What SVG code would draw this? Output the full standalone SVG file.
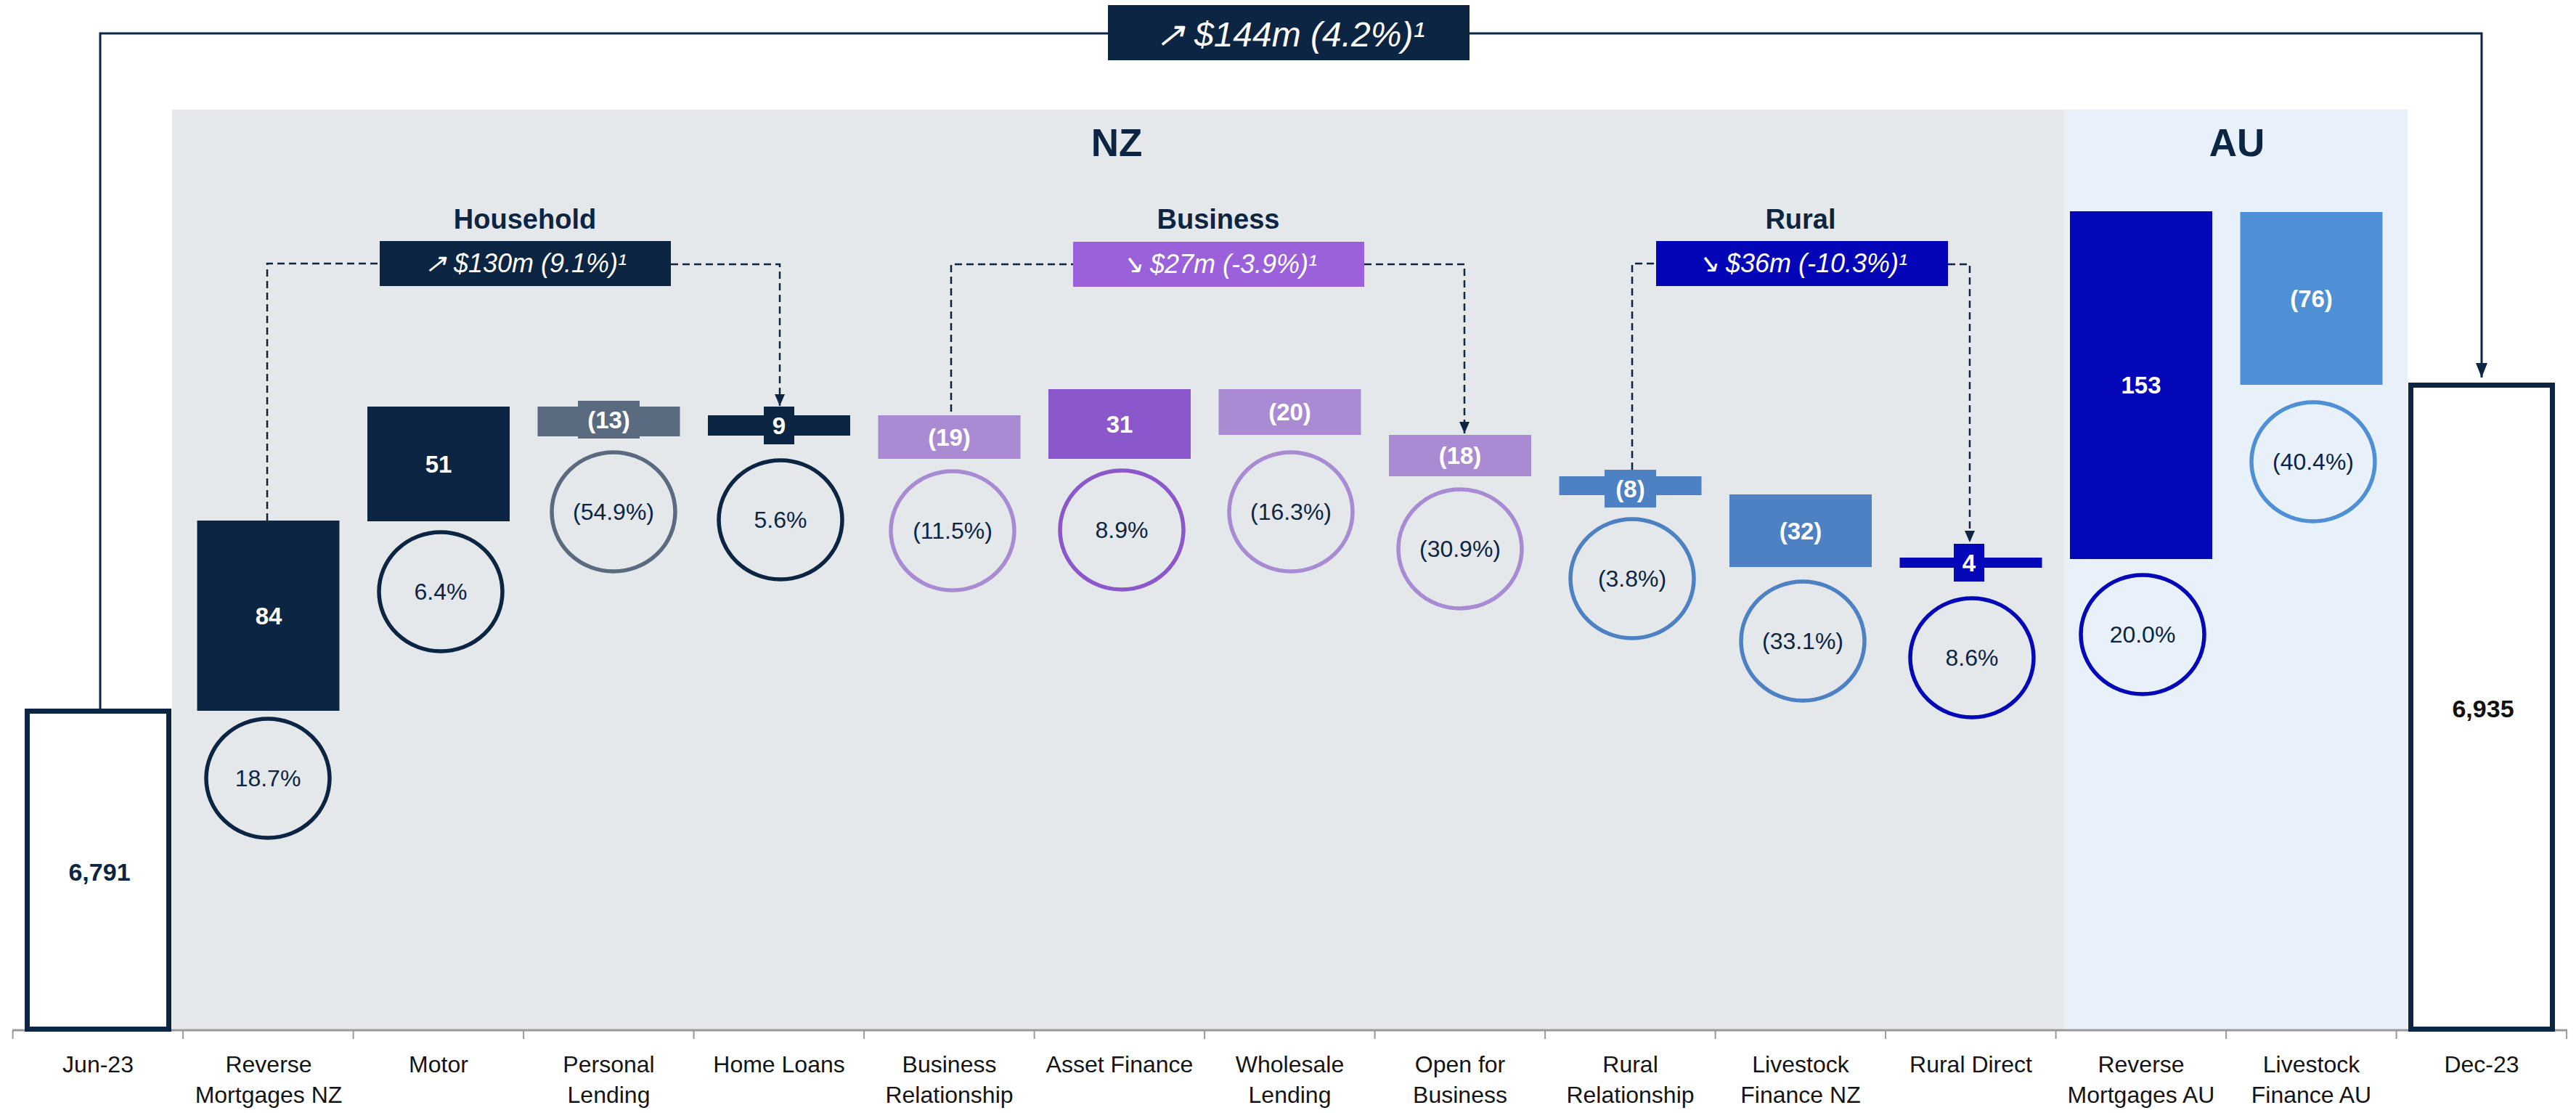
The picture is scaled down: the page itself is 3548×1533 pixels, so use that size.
<svg xmlns="http://www.w3.org/2000/svg" width="3548" height="1533" viewBox="0 0 3548 1533">
<defs>
<style>
text { font-family: "Liberation Sans", Arial, sans-serif; }
.cat { font-size: 32px; fill: #141414; text-anchor: middle; }
.bl { font-size: 33px; font-weight: bold; fill: #ffffff; text-anchor: middle; }
.pct { font-size: 32px; fill: #0c2542; text-anchor: middle; }
.ring { fill: none; stroke-width: 5.5; }
.hd { font-size: 38px; font-weight: bold; fill: #0c2542; text-anchor: middle; }
.rg { font-size: 53px; font-weight: bold; fill: #0c2542; text-anchor: middle; }
.badge { font-size: 36px; font-style: italic; fill: #ffffff; text-anchor: middle; }
.dash { fill: none; stroke: #0c2542; stroke-width: 2.5; stroke-dasharray: 10 6; }
.solid { fill: none; stroke: #0c2542; stroke-width: 3; }
.tot { fill: #ffffff; stroke: #0c2542; stroke-width: 7; }
.totl { font-size: 34px; font-weight: bold; text-anchor: middle; }
.axis { stroke: #9a9a9a; stroke-width: 3; }
.tick { stroke: #9a9a9a; stroke-width: 2; }
.navy { fill: #0c2542; }
.gray { fill: #5a6b80; }
.lp { fill: #a98bd4; }
.dp { fill: #8b58cb; }
.mb { fill: #4e80c4; }
.db { fill: #0508b8; }
.lb { fill: #4f8fd6; }
.s-navy { stroke: #0c2542; }
.s-gray { stroke: #5a6b80; }
.s-lp { stroke: #a98bd4; }
.s-dp { stroke: #8b58cb; }
.s-mb { stroke: #4e80c4; }
.s-db { stroke: #0508b8; }
.s-lb { stroke: #4f8fd6; }
</style>
<marker id="ah" viewBox="0 0 16 14" refX="16" refY="7" markerWidth="16" markerHeight="14" markerUnits="userSpaceOnUse" orient="auto">
<path d="M0,0 L16,7 L0,14 Z" fill="#0c2542"/>
</marker>
<marker id="ahb" viewBox="0 0 20 16" refX="20" refY="8" markerWidth="20" markerHeight="16" markerUnits="userSpaceOnUse" orient="auto">
<path d="M0,0 L20,8 L0,16 Z" fill="#0c2542"/>
</marker>
</defs>

<rect x="0" y="0" width="3548" height="1533" fill="#ffffff"/>

<g id="region-nz">
<rect x="237" y="151" width="2606" height="1268" fill="#e4e8eb"/>
<text class="rg" x="1538" y="215">NZ</text>
</g>
<g id="region-au">
<rect x="2843" y="151" width="473" height="1268" fill="#e8f1fa"/>
<text class="rg" x="3081" y="215">AU</text>
</g>

<g id="axis">
<line class="axis" x1="17" y1="1419" x2="3536" y2="1419"/>
<line class="tick" x1="17.6" y1="1419" x2="17.6" y2="1431"/>
<line class="tick" x1="252.1" y1="1419" x2="252.1" y2="1431"/>
<line class="tick" x1="486.6" y1="1419" x2="486.6" y2="1431"/>
<line class="tick" x1="721.1" y1="1419" x2="721.1" y2="1431"/>
<line class="tick" x1="955.6" y1="1419" x2="955.6" y2="1431"/>
<line class="tick" x1="1190.1" y1="1419" x2="1190.1" y2="1431"/>
<line class="tick" x1="1424.6" y1="1419" x2="1424.6" y2="1431"/>
<line class="tick" x1="1659.1" y1="1419" x2="1659.1" y2="1431"/>
<line class="tick" x1="1893.6" y1="1419" x2="1893.6" y2="1431"/>
<line class="tick" x1="2128.1" y1="1419" x2="2128.1" y2="1431"/>
<line class="tick" x1="2362.6" y1="1419" x2="2362.6" y2="1431"/>
<line class="tick" x1="2597.1" y1="1419" x2="2597.1" y2="1431"/>
<line class="tick" x1="2831.6" y1="1419" x2="2831.6" y2="1431"/>
<line class="tick" x1="3066.1" y1="1419" x2="3066.1" y2="1431"/>
<line class="tick" x1="3300.6" y1="1419" x2="3300.6" y2="1431"/>
<line class="tick" x1="3535.1" y1="1419" x2="3535.1" y2="1431"/>
</g>

<g id="category-labels">
<text class="cat" x="135" y="1477">Jun-23</text>
<text class="cat" x="370" y="1477">Reverse</text><text class="cat" x="370" y="1519">Mortgages NZ</text>
<text class="cat" x="604" y="1477">Motor</text>
<text class="cat" x="838.5" y="1477">Personal</text><text class="cat" x="838.5" y="1519">Lending</text>
<text class="cat" x="1073" y="1477">Home Loans</text>
<text class="cat" x="1307.5" y="1477">Business</text><text class="cat" x="1307.5" y="1519">Relationship</text>
<text class="cat" x="1542" y="1477">Asset Finance</text>
<text class="cat" x="1776.5" y="1477">Wholesale</text><text class="cat" x="1776.5" y="1519">Lending</text>
<text class="cat" x="2011" y="1477">Open for</text><text class="cat" x="2011" y="1519">Business</text>
<text class="cat" x="2245.5" y="1477">Rural</text><text class="cat" x="2245.5" y="1519">Relationship</text>
<text class="cat" x="2480" y="1477">Livestock</text><text class="cat" x="2480" y="1519">Finance NZ</text>
<text class="cat" x="2714.5" y="1477">Rural Direct</text>
<text class="cat" x="2949" y="1477">Reverse</text><text class="cat" x="2949" y="1519">Mortgages AU</text>
<text class="cat" x="3183.5" y="1477">Livestock</text><text class="cat" x="3183.5" y="1519">Finance AU</text>
<text class="cat" x="3418" y="1477">Dec-23</text>
</g>

<g id="connectors">
<path class="solid" d="M138,976 V46 H3418 V520" marker-end="url(#ahb)"/>
<path class="dash" d="M368,717 V363 H523"/>
<path class="dash" d="M924,364 H1074 V559" marker-end="url(#ah)"/>
<path class="dash" d="M1310,567 V364 H1478"/>
<path class="dash" d="M1879,364 H2017 V597" marker-end="url(#ah)"/>
<path class="dash" d="M2248,647 V363 H2281"/>
<path class="dash" d="M2683,364 H2713 V747" marker-end="url(#ah)"/>
</g>

<g id="total-change">
<rect class="navy" x="1526" y="7" width="498" height="76"/>
<text class="badge" x="1777" y="64" style="font-size:48px">↗ $144m (4.2%)¹</text>
</g>

<g id="household">
<text class="hd" x="723" y="315">Household</text>
<rect class="navy" x="523" y="332" width="401" height="62"/>
<text class="badge" x="724" y="375">↗ $130m (9.1%)¹</text>
</g>
<g id="business">
<text class="hd" x="1678" y="315">Business</text>
<rect x="1478" y="333" width="401" height="62" fill="#9b61db"/>
<text class="badge" x="1679" y="376">↘ $27m (-3.9%)¹</text>
</g>
<g id="rural">
<text class="hd" x="2480" y="315">Rural</text>
<rect x="2281" y="332" width="402" height="62" fill="#0505b8"/>
<text class="badge" x="2482" y="375">↘ $36m (-10.3%)¹</text>
</g>

<g id="jun-23">
<rect class="tot" x="37.5" y="979.5" width="195" height="438"/>
<text class="totl" x="137" y="1213" fill="#0c2542">6,791</text>
</g>

<g id="reverse-mortgages-nz">
<rect class="navy" x="271.5" y="717" width="196" height="262"/>
<text class="bl" x="370" y="860">84</text>
<ellipse class="ring s-navy" cx="369" cy="1072" rx="85" ry="82"/>
<text class="pct" x="369" y="1083">18.7%</text>
</g>

<g id="motor">
<rect class="navy" x="506" y="560" width="196" height="158"/>
<text class="bl" x="604" y="651">51</text>
<ellipse class="ring s-navy" cx="607" cy="815" rx="85" ry="82"/>
<text class="pct" x="607" y="826">6.4%</text>
</g>

<g id="personal-lending">
<rect class="gray" x="740.5" y="560" width="196" height="41"/>
<rect class="gray" x="796" y="552" width="85" height="52"/>
<text class="bl" x="838.5" y="590">(13)</text>
<ellipse class="ring s-gray" cx="845" cy="705" rx="85" ry="82"/>
<text class="pct" x="845" y="716">(54.9%)</text>
</g>

<g id="home-loans">
<rect class="navy" x="975" y="572" width="196" height="28"/>
<rect class="navy" x="1052" y="560" width="42" height="52"/>
<text class="bl" x="1073" y="598">9</text>
<ellipse class="ring s-navy" cx="1075" cy="716" rx="85" ry="82"/>
<text class="pct" x="1075" y="727">5.6%</text>
</g>

<g id="business-relationship">
<rect class="lp" x="1209.5" y="572" width="196" height="60"/>
<text class="bl" x="1307.5" y="614">(19)</text>
<ellipse class="ring s-lp" cx="1312" cy="731" rx="85" ry="82"/>
<text class="pct" x="1312" y="742">(11.5%)</text>
</g>

<g id="asset-finance">
<rect class="dp" x="1444" y="536" width="196" height="96"/>
<text class="bl" x="1542" y="596">31</text>
<ellipse class="ring s-dp" cx="1545" cy="730" rx="85" ry="82"/>
<text class="pct" x="1545" y="741">8.9%</text>
</g>

<g id="wholesale-lending">
<rect class="lp" x="1678.5" y="536" width="196" height="63"/>
<text class="bl" x="1776.5" y="579">(20)</text>
<ellipse class="ring s-lp" cx="1778" cy="705" rx="85" ry="82"/>
<text class="pct" x="1778" y="716">(16.3%)</text>
</g>

<g id="open-for-business">
<rect class="lp" x="1913" y="599" width="196" height="57"/>
<text class="bl" x="2011" y="639">(18)</text>
<ellipse class="ring s-lp" cx="2011" cy="756" rx="85" ry="82"/>
<text class="pct" x="2011" y="767">(30.9%)</text>
</g>

<g id="rural-relationship">
<rect class="mb" x="2147.5" y="656" width="196" height="26"/>
<rect class="mb" x="2210" y="647" width="71" height="52"/>
<text class="bl" x="2245.5" y="685">(8)</text>
<ellipse class="ring s-mb" cx="2248" cy="797" rx="85" ry="82"/>
<text class="pct" x="2248" y="808">(3.8%)</text>
</g>

<g id="livestock-finance-nz">
<rect class="mb" x="2382" y="681" width="196" height="100"/>
<text class="bl" x="2480" y="743">(32)</text>
<ellipse class="ring s-mb" cx="2483" cy="883" rx="85" ry="82"/>
<text class="pct" x="2483" y="894">(33.1%)</text>
</g>

<g id="rural-direct">
<rect class="db" x="2616.5" y="768" width="196" height="14"/>
<rect class="db" x="2691" y="749" width="42" height="52"/>
<text class="bl" x="2712" y="787">4</text>
<ellipse class="ring s-db" cx="2716" cy="906" rx="85" ry="82"/>
<text class="pct" x="2716" y="917">8.6%</text>
</g>

<g id="reverse-mortgages-au">
<rect class="db" x="2851" y="291" width="196" height="479"/>
<text class="bl" x="2949" y="542">153</text>
<ellipse class="ring s-db" cx="2951" cy="874" rx="85" ry="82"/>
<text class="pct" x="2951" y="885">20.0%</text>
</g>

<g id="livestock-finance-au">
<rect class="lb" x="3085.5" y="292" width="196" height="238"/>
<text class="bl" x="3183.5" y="423">(76)</text>
<ellipse class="ring s-lb" cx="3186" cy="636" rx="85" ry="82"/>
<text class="pct" x="3186" y="647">(40.4%)</text>
</g>

<g id="dec-23">
<rect class="tot" x="3320.5" y="530.5" width="195" height="887"/>
<text class="totl" x="3420" y="988" fill="#111111">6,935</text>
</g>
</svg>
